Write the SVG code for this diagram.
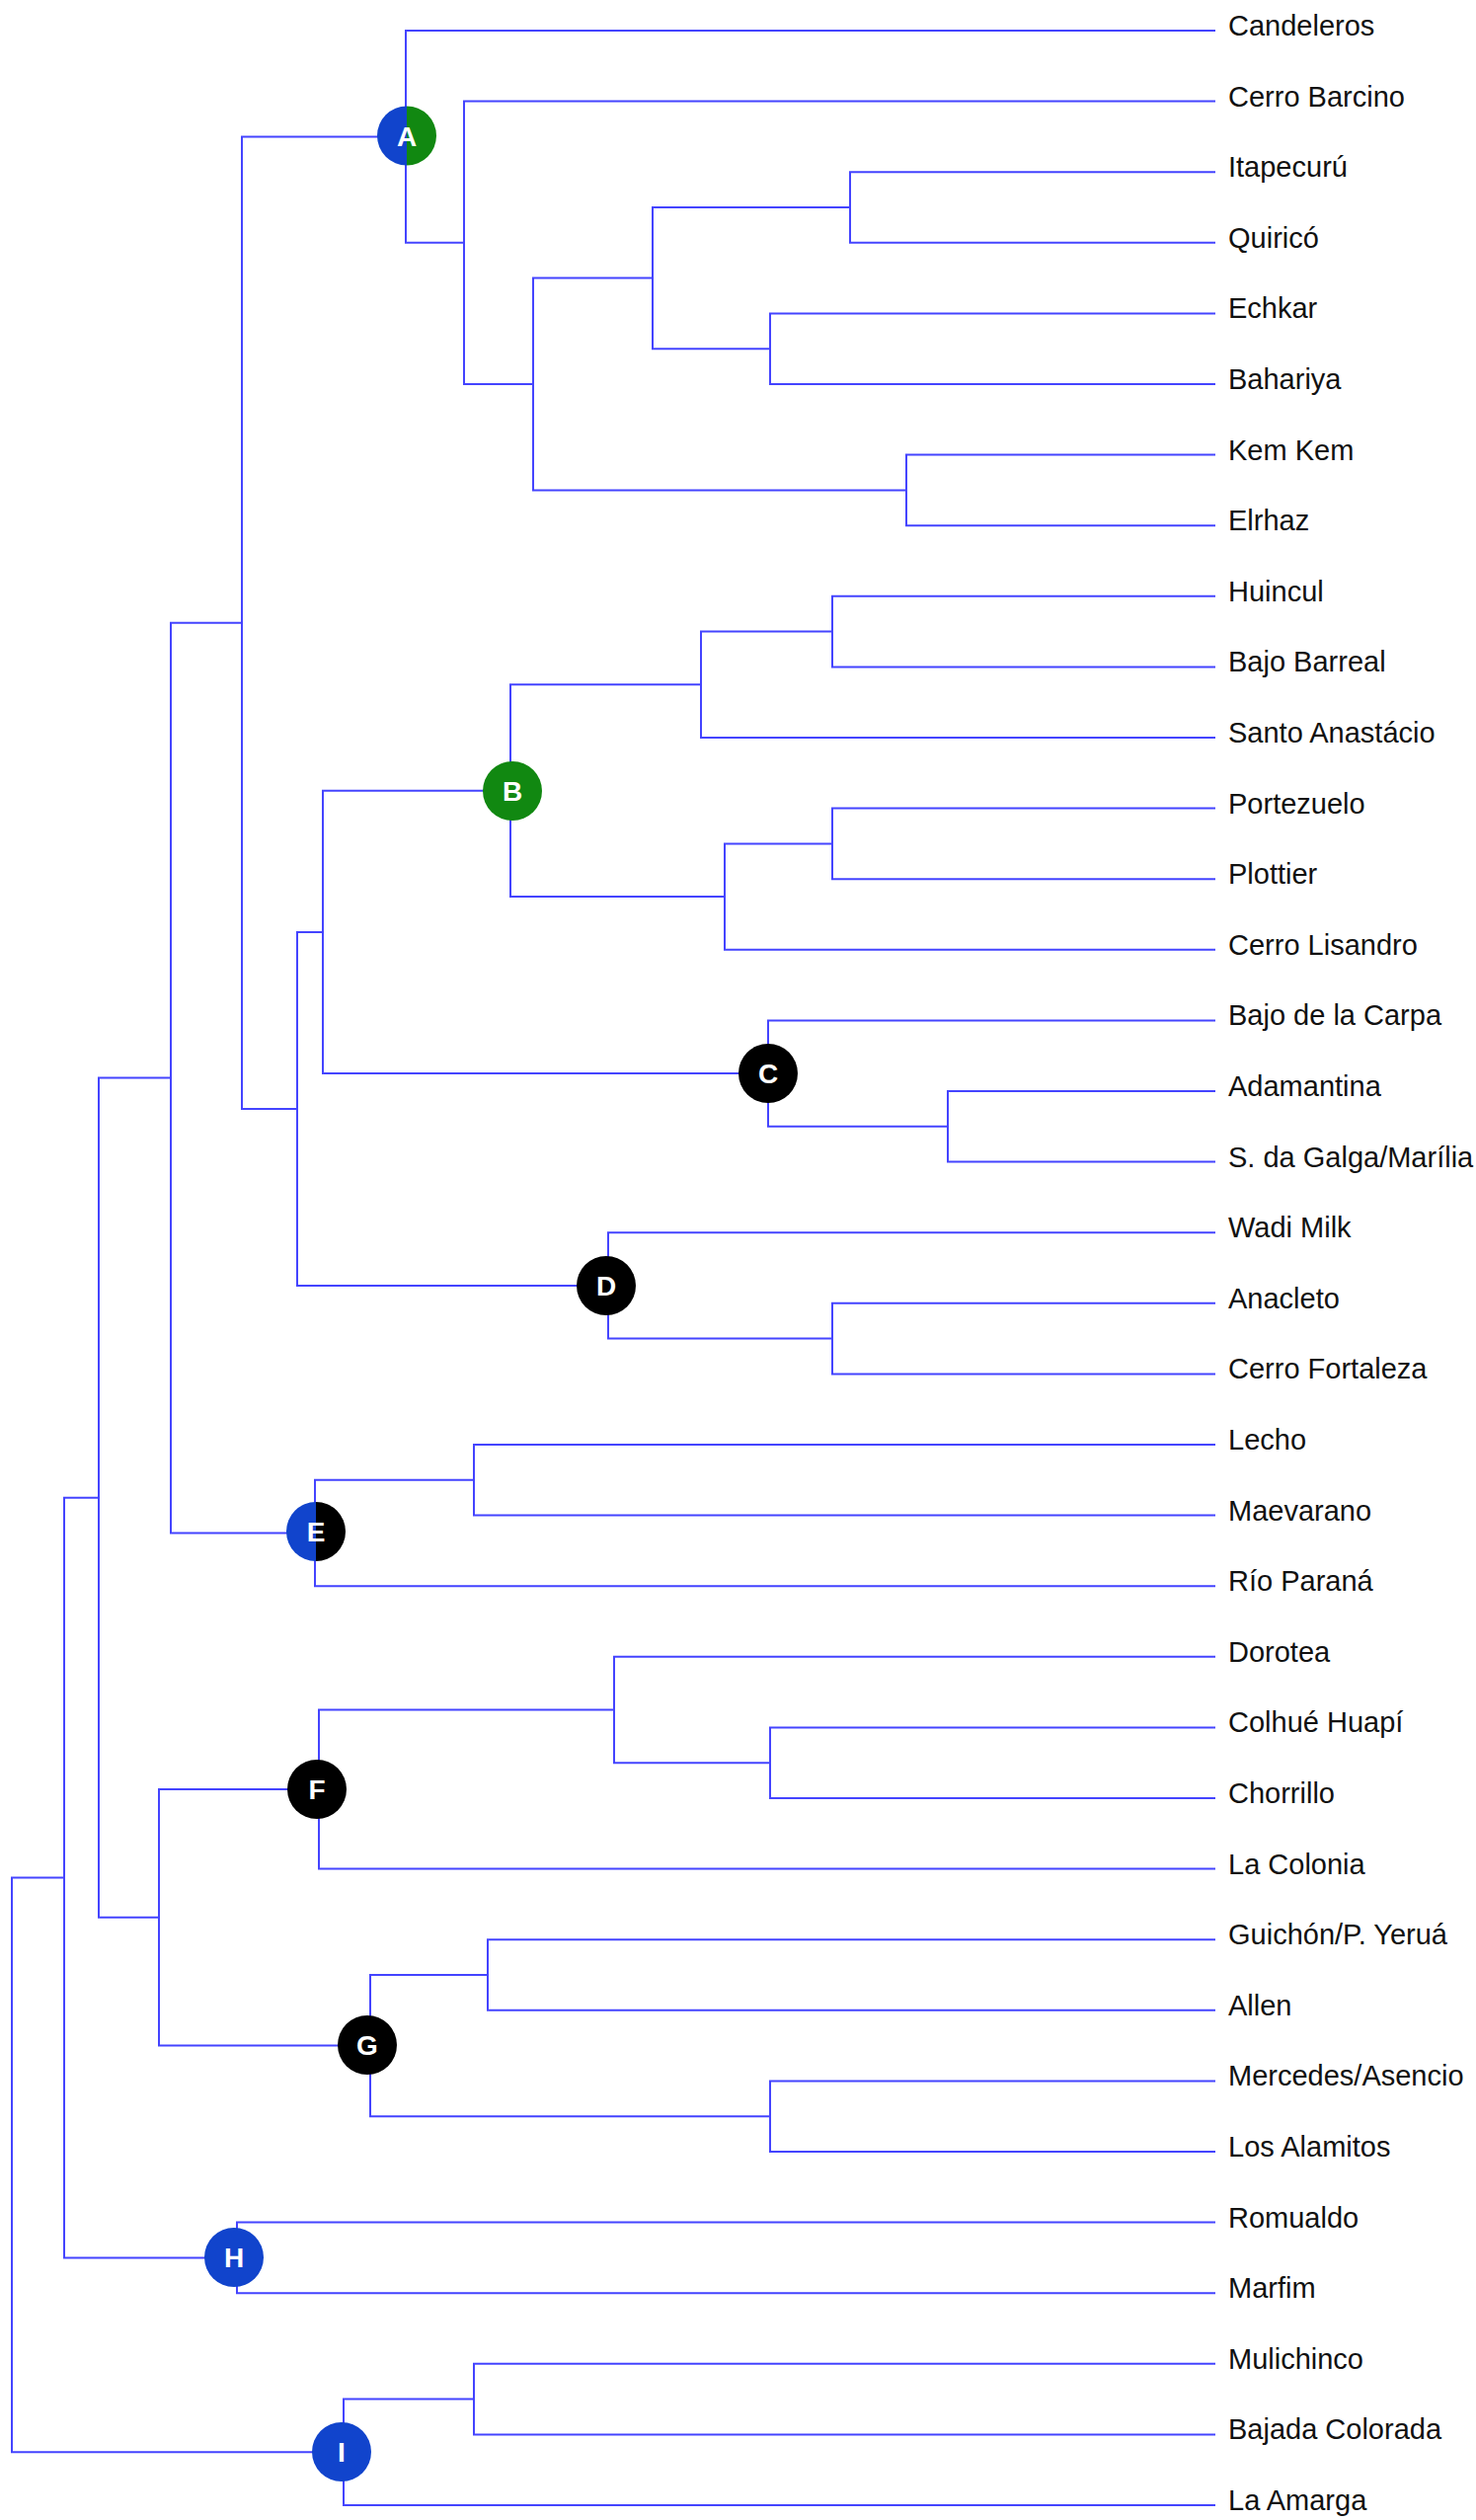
<svg xmlns="http://www.w3.org/2000/svg" width="1495" height="2552" viewBox="0 0 1495 2552">
<style>
.edge{fill:none;stroke:#4444ff;stroke-width:2}
.lbl{font-family:"Liberation Sans",Arial,sans-serif;font-size:29px;fill:#111}
.ltr{font-family:"Liberation Sans",Arial,sans-serif;font-size:28px;font-weight:bold;fill:#fff;text-anchor:middle}
.blue{fill:#1144cc}.green{fill:#118811}.black{fill:#000}
</style>
<rect width="1495" height="2552" fill="#fff"/>
<g id="connectors">
<path class="edge" d="M65 1901.55 H12 V2483.3 H348"/>
<path class="edge" d="M100 1516.7 H65 V2286.4 H240"/>
<path class="edge" d="M173 1091.6 H100 V1941.8 H161"/>
<path class="edge" d="M245 630.65 H173 V1552.5 H319"/>
<path class="edge" d="M411 138.4 H245 V1122.9 H301"/>
<path class="edge" d="M1231 31 H411 V245.8 H470"/>
<path class="edge" d="M1231 102.6 H470 V389 H540"/>
<path class="edge" d="M661 281.6 H540 V496.4 H918"/>
<path class="edge" d="M861 210 H661 V353.2 H780"/>
<path class="edge" d="M1231 174.2 H861 V245.8 H1231"/>
<path class="edge" d="M1231 317.4 H780 V389 H1231"/>
<path class="edge" d="M1231 460.6 H918 V532.2 H1231"/>
<path class="edge" d="M327 943.9 H301 V1301.9 H616"/>
<path class="edge" d="M517 800.7 H327 V1087.1 H778"/>
<path class="edge" d="M710 693.3 H517 V908.1 H734"/>
<path class="edge" d="M843 639.6 H710 V747 H1231"/>
<path class="edge" d="M1231 603.8 H843 V675.4 H1231"/>
<path class="edge" d="M843 854.4 H734 V961.8 H1231"/>
<path class="edge" d="M1231 818.6 H843 V890.2 H1231"/>
<path class="edge" d="M1231 1033.4 H778 V1140.8 H960"/>
<path class="edge" d="M1231 1105 H960 V1176.6 H1231"/>
<path class="edge" d="M1231 1248.2 H616 V1355.6 H843"/>
<path class="edge" d="M1231 1319.8 H843 V1391.4 H1231"/>
<path class="edge" d="M480 1498.8 H319 V1606.2 H1231"/>
<path class="edge" d="M1231 1463 H480 V1534.6 H1231"/>
<path class="edge" d="M323 1812.05 H161 V2071.6 H375"/>
<path class="edge" d="M622 1731.5 H323 V1892.6 H1231"/>
<path class="edge" d="M1231 1677.8 H622 V1785.2 H780"/>
<path class="edge" d="M1231 1749.4 H780 V1821 H1231"/>
<path class="edge" d="M494 2000 H375 V2143.2 H780"/>
<path class="edge" d="M1231 1964.2 H494 V2035.8 H1231"/>
<path class="edge" d="M1231 2107.4 H780 V2179 H1231"/>
<path class="edge" d="M1231 2250.6 H240 V2322.2 H1231"/>
<path class="edge" d="M480 2429.6 H348 V2537 H1231"/>
<path class="edge" d="M1231 2393.8 H480 V2465.4 H1231"/>
</g>
<g id="nodeA"><path class="blue" d="M412 107.5 A30 30 0 0 0 412 167.5 Z"/><path class="green" d="M412 107.5 A30 30 0 0 1 412 167.5 Z"/><text class="ltr" x="412" y="147.5">A</text></g>
<g id="nodeB"><circle class="green" cx="519" cy="801" r="30"/><text class="ltr" x="519" y="811">B</text></g>
<g id="nodeC"><circle class="black" cx="778" cy="1087" r="30"/><text class="ltr" x="778" y="1097">C</text></g>
<g id="nodeD"><circle class="black" cx="614" cy="1302" r="30"/><text class="ltr" x="614" y="1312">D</text></g>
<g id="nodeE"><path class="blue" d="M320 1521 A30 30 0 0 0 320 1581 Z"/><path class="black" d="M320 1521 A30 30 0 0 1 320 1581 Z"/><text class="ltr" x="320" y="1561">E</text></g>
<g id="nodeF"><circle class="black" cx="321" cy="1812" r="30"/><text class="ltr" x="321" y="1822">F</text></g>
<g id="nodeG"><circle class="black" cx="372" cy="2071" r="30"/><text class="ltr" x="372" y="2081">G</text></g>
<g id="nodeH"><circle class="blue" cx="237" cy="2286" r="30"/><text class="ltr" x="237" y="2296">H</text></g>
<g id="nodeI"><circle class="blue" cx="346" cy="2483" r="30"/><text class="ltr" x="346" y="2493">I</text></g>
<g id="leaves">
<text class="lbl" x="1244" y="36">Candeleros</text>
<text class="lbl" x="1244" y="107.6">Cerro Barcino</text>
<text class="lbl" x="1244" y="179.2">Itapecurú</text>
<text class="lbl" x="1244" y="250.8">Quiricó</text>
<text class="lbl" x="1244" y="322.4">Echkar</text>
<text class="lbl" x="1244" y="394">Bahariya</text>
<text class="lbl" x="1244" y="465.6">Kem Kem</text>
<text class="lbl" x="1244" y="537.2">Elrhaz</text>
<text class="lbl" x="1244" y="608.8">Huincul</text>
<text class="lbl" x="1244" y="680.4">Bajo Barreal</text>
<text class="lbl" x="1244" y="752">Santo Anastácio</text>
<text class="lbl" x="1244" y="823.6">Portezuelo</text>
<text class="lbl" x="1244" y="895.2">Plottier</text>
<text class="lbl" x="1244" y="966.8">Cerro Lisandro</text>
<text class="lbl" x="1244" y="1038.4">Bajo de la Carpa</text>
<text class="lbl" x="1244" y="1110">Adamantina</text>
<text class="lbl" x="1244" y="1181.6">S. da Galga/Marília</text>
<text class="lbl" x="1244" y="1253.2">Wadi Milk</text>
<text class="lbl" x="1244" y="1324.8">Anacleto</text>
<text class="lbl" x="1244" y="1396.4">Cerro Fortaleza</text>
<text class="lbl" x="1244" y="1468">Lecho</text>
<text class="lbl" x="1244" y="1539.6">Maevarano</text>
<text class="lbl" x="1244" y="1611.2">Río Paraná</text>
<text class="lbl" x="1244" y="1682.8">Dorotea</text>
<text class="lbl" x="1244" y="1754.4">Colhué Huapí</text>
<text class="lbl" x="1244" y="1826">Chorrillo</text>
<text class="lbl" x="1244" y="1897.6">La Colonia</text>
<text class="lbl" x="1244" y="1969.2">Guichón/P. Yeruá</text>
<text class="lbl" x="1244" y="2040.8">Allen</text>
<text class="lbl" x="1244" y="2112.4">Mercedes/Asencio</text>
<text class="lbl" x="1244" y="2184">Los Alamitos</text>
<text class="lbl" x="1244" y="2255.6">Romualdo</text>
<text class="lbl" x="1244" y="2327.2">Marfim</text>
<text class="lbl" x="1244" y="2398.8">Mulichinco</text>
<text class="lbl" x="1244" y="2470.4">Bajada Colorada</text>
<text class="lbl" x="1244" y="2542">La Amarga</text>
</g>
</svg>
